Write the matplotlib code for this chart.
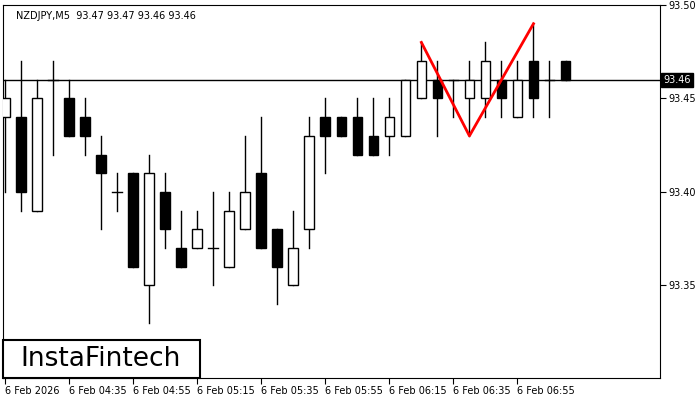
import matplotlib.pyplot as plt
from matplotlib.patches import Rectangle

opens  = [93.44,93.44,93.39,93.46,93.45,93.44,93.42,93.40,93.41,93.35,93.40,93.37,93.37,93.37,93.36,93.38,93.41,93.38,93.35,93.38,
          93.44,93.44,93.44,93.43,93.43,93.43,93.45,93.46,93.46,93.45,93.45,93.46,93.44,93.47,93.46,93.47]
closes = [93.45,93.40,93.45,93.46,93.43,93.43,93.41,93.40,93.36,93.41,93.38,93.36,93.38,93.37,93.39,93.40,93.37,93.36,93.37,93.43,
          93.43,93.43,93.42,93.42,93.44,93.46,93.47,93.45,93.46,93.46,93.47,93.45,93.46,93.45,93.46,93.46]
highs  = [93.46,93.47,93.46,93.47,93.46,93.45,93.43,93.41,93.41,93.42,93.41,93.39,93.39,93.40,93.40,93.43,93.44,93.38,93.39,93.44,
          93.45,93.44,93.45,93.45,93.45,93.46,93.48,93.47,93.46,93.47,93.48,93.47,93.47,93.49,93.47,93.47]
lows   = [93.40,93.39,93.39,93.42,93.43,93.42,93.38,93.39,93.36,93.33,93.37,93.36,93.37,93.35,93.36,93.38,93.37,93.34,93.35,93.37,
          93.41,93.43,93.42,93.42,93.42,93.43,93.45,93.43,93.44,93.43,93.44,93.44,93.44,93.44,93.44,93.46]
pattern_idx = [26, 29, 33]
pattern_val = [93.48, 93.43, 93.49]
tick_labels = ["6 Feb 2026", "6 Feb 04:35", "6 Feb 04:55", "6 Feb 05:15", "6 Feb 05:35",
               "6 Feb 05:55", "6 Feb 06:15", "6 Feb 06:35", "6 Feb 06:55"]
y_ticks = [93.35, 93.40, 93.45, 93.50]
last_price = 93.46

fig = plt.figure(figsize=(7, 4), dpi=100)
ax = fig.add_axes([3/700, 22/400, 657/700, 373/400])
ax.set_xlim(-0.125, 40.9)
ax.set_ylim(93.3005, 93.50)

w = 0.6
for i, (o, c, h, l) in enumerate(zip(opens, closes, highs, lows)):
    ax.plot([i, i], [l, h], color='black', lw=1, zorder=2)
    bot, top = min(o, c), max(o, c)
    if top - bot < 1e-9:
        ax.plot([i - w/2, i + w/2], [o, o], color='black', lw=1, zorder=3)
    else:
        ax.add_patch(Rectangle((i - w/2, bot), w, top - bot, facecolor='black' if c < o else 'white',
                               edgecolor='black', lw=1, zorder=3))

ax.axhline(last_price, color='black', lw=1, zorder=1)
ax.plot(pattern_idx, pattern_val, color='red', lw=2, zorder=4)

ax.yaxis.tick_right()
ax.set_yticks(y_ticks)
ax.set_yticklabels([f"{v:.2f}" for v in y_ticks], fontsize=7)
ax.set_xticks(range(0, 36, 4))
ax.set_xticklabels(tick_labels, fontsize=7, ha='left')
ax.tick_params(direction='out', length=4, pad=2)
ax.text(1.005, last_price, f"{last_price:.2f}", transform=ax.get_yaxis_transform(),
        fontsize=7, color='white', va='center', ha='left',
        bbox=dict(boxstyle='square,pad=0.2', facecolor='black', edgecolor='black'))
ax.text(0.02, 0.985, "NZDJPY,M5  93.47 93.47 93.46 93.46", transform=ax.transAxes,
        fontsize=7, va='top', ha='left')

# logo box
fig.patches.append(Rectangle((3/700, 22/400), 197/700, 38/400, transform=fig.transFigure,
                             facecolor='white', edgecolor='black', lw=1.5, zorder=5))
fig.text(101/700, 41/400, "InstaFintech", fontsize=19, ha='center', va='center', zorder=6)

fig.savefig("out.png", dpi=100)
